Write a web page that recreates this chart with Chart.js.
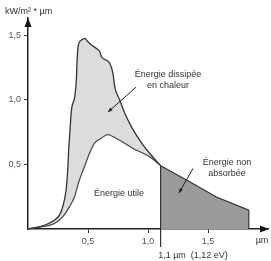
<!DOCTYPE html>
<html>
<head>
<meta charset="utf-8">
<script src="https://cdn.jsdelivr.net/npm/chart.js@4"></script>
<style>
  html, body { margin: 0; padding: 0; background: #fff; }
</style>
</head>
<body>
<canvas id="chart" width="271" height="261"></canvas>
<script>
// spectrum above the atmosphere-ish curve (upper) and the part the cell uses (lower)
const upperX = [0, 0.025, 0.137, 0.22, 0.262, 0.289, 0.317, 0.331, 0.339, 0.35, 0.362, 0.389, 0.403, 0.408, 0.417, 0.445, 0.473, 0.5, 0.528, 0.57, 0.598, 0.612, 0.653, 0.681, 0.708, 0.723, 0.764, 0.806, 0.862, 0.958, 1.042, 1.105];
const upperY = [0, 0.004, 0.029, 0.068, 0.107, 0.171, 0.3, 0.455, 0.61, 0.765, 0.92, 1.022, 1.152, 1.281, 1.409, 1.461, 1.474, 1.448, 1.423, 1.397, 1.371, 1.332, 1.306, 1.281, 1.204, 1.1, 0.998, 0.897, 0.79, 0.65, 0.555, 0.49];

const lowerX = [0, 0.108, 0.22, 0.289, 0.345, 0.387, 0.428, 0.47, 0.512, 0.553, 0.608, 0.664, 0.737, 0.875, 1.014, 1.105];
const lowerY = [0, 0.016, 0.043, 0.094, 0.171, 0.248, 0.378, 0.481, 0.584, 0.662, 0.70, 0.73, 0.70, 0.623, 0.558, 0.49];

// not absorbed part, beyond the gap wavelength
const tailX = [1.105, 1.105, 1.347, 1.57, 1.84, 1.84];
const tailY = [0, 0.49, 0.365, 0.248, 0.146, 0];

const gapX = 1.105;
const xTicks = [0.5, 1.0, 1.5];
const yTicks = [0.5, 1.0, 1.5];

const toPts = (xs, ys) => xs.map((x, i) => ({ x: x, y: ys[i] }));
const fmt = v => v.toFixed(1).replace('.', ',');

const FONT = '"Liberation Sans", Arial, sans-serif';

const annotations = {
    id: 'annotations',
    afterDraw(chart) {
        const ctx = chart.ctx;
        const xs = chart.scales.x, ys = chart.scales.y;
        const area = chart.chartArea;
        const px = v => xs.getPixelForValue(v);
        const py = v => ys.getPixelForValue(v);

        ctx.save();
        ctx.fillStyle = '#111';
        // arrow heads on axes
        ctx.beginPath();
        ctx.moveTo(area.left, area.top);
        ctx.lineTo(area.left - 3.5, area.top + 9);
        ctx.lineTo(area.left + 3.5, area.top + 9);
        ctx.closePath();
        ctx.fill();
        ctx.beginPath();
        ctx.moveTo(area.right + 1, area.bottom);
        ctx.lineTo(area.right - 8, area.bottom - 3.5);
        ctx.lineTo(area.right - 8, area.bottom + 3.5);
        ctx.closePath();
        ctx.fill();

        // gap marker below axis
        ctx.strokeStyle = '#333';
        ctx.lineWidth = 1.2;
        ctx.beginPath();
        ctx.moveTo(px(gapX), area.bottom);
        ctx.lineTo(px(gapX), area.bottom + 18);
        ctx.stroke();

        // pointer lines
        const pointer = (x1, y1, x2, y2) => {
            ctx.strokeStyle = '#222';
            ctx.fillStyle = '#222';
            ctx.lineWidth = 1;
            ctx.beginPath();
            ctx.moveTo(x1, y1);
            ctx.lineTo(x2, y2);
            ctx.stroke();
            const a = Math.atan2(y2 - y1, x2 - x1);
            ctx.beginPath();
            ctx.moveTo(x2, y2);
            ctx.lineTo(x2 - 5 * Math.cos(a - 0.4), y2 - 5 * Math.sin(a - 0.4));
            ctx.lineTo(x2 - 5 * Math.cos(a + 0.4), y2 - 5 * Math.sin(a + 0.4));
            ctx.closePath();
            ctx.fill();
        };
        pointer(px(0.9), py(1.097), px(0.666), py(0.904));
        pointer(px(1.375), py(0.468), px(1.258), py(0.279));

        // labels
        ctx.fillStyle = '#333';
        ctx.font = '9px ' + FONT;
        ctx.textBaseline = 'middle';
        ctx.textAlign = 'center';
        ctx.fillText('Énergie dissipée', 168, 75);
        ctx.fillText('en chaleur', 168, 86);
        ctx.fillText('Énergie utile', 119, 194);
        ctx.fillText('Énergie non', 227, 163);
        ctx.fillText('absorbée', 227, 174);
        ctx.fillText('1,1 µm  (1,12 eV)', 193, 256);
        ctx.fillText('µm', 262, 241);
        ctx.textAlign = 'left';
        ctx.fillText('kW/m² * µm', 5, 12);
        ctx.restore();
    }
};

new Chart(document.getElementById('chart'), {
    type: 'line',
    data: {
        datasets: [
            {
                data: toPts(upperX, upperY),
                borderColor: '#333',
                borderWidth: 1.3,
                backgroundColor: '#dcdcdc',
                fill: '+1',
                cubicInterpolationMode: 'monotone',
                pointRadius: 0
            },
            {
                data: toPts(lowerX, lowerY),
                borderColor: '#444',
                borderWidth: 1.2,
                fill: false,
                cubicInterpolationMode: 'monotone',
                pointRadius: 0
            },
            {
                data: toPts(tailX, tailY),
                borderColor: '#333',
                borderWidth: 1.2,
                backgroundColor: '#9b9b9b',
                fill: 'origin',
                tension: 0,
                pointRadius: 0
            }
        ]
    },
    options: {
        responsive: false,
        animation: false,
        devicePixelRatio: 1,
        layout: { padding: { top: 18, right: 3, left: 0, bottom: 0 } },
        plugins: {
            legend: { display: false },
            tooltip: { enabled: false },
            filler: { drawTime: 'beforeDatasetsDraw' }
        },
        scales: {
            x: {
                type: 'linear',
                min: 0,
                max: 2,
                afterBuildTicks: s => { s.ticks = xTicks.map(v => ({ value: v })); },
                afterFit: s => { s.height = 32; },
                ticks: {
                    callback: v => fmt(v),
                    font: { size: 9, family: FONT },
                    color: '#555',
                    padding: 3,
                    maxRotation: 0,
                    autoSkip: false
                },
                grid: { drawOnChartArea: false, tickLength: 4, color: '#333' },
                border: { color: '#222', width: 1.5 }
            },
            y: {
                type: 'linear',
                min: 0,
                max: 1.632,
                afterBuildTicks: s => { s.ticks = yTicks.map(v => ({ value: v })); },
                afterFit: s => { s.width = 28; },
                ticks: {
                    callback: v => fmt(v),
                    font: { size: 9, family: FONT },
                    color: '#555',
                    padding: 3,
                    autoSkip: false
                },
                grid: { drawOnChartArea: false, tickLength: 4, color: '#333' },
                border: { color: '#222', width: 1.5 }
            }
        }
    },
    plugins: [annotations]
});
</script>
</body>
</html>
